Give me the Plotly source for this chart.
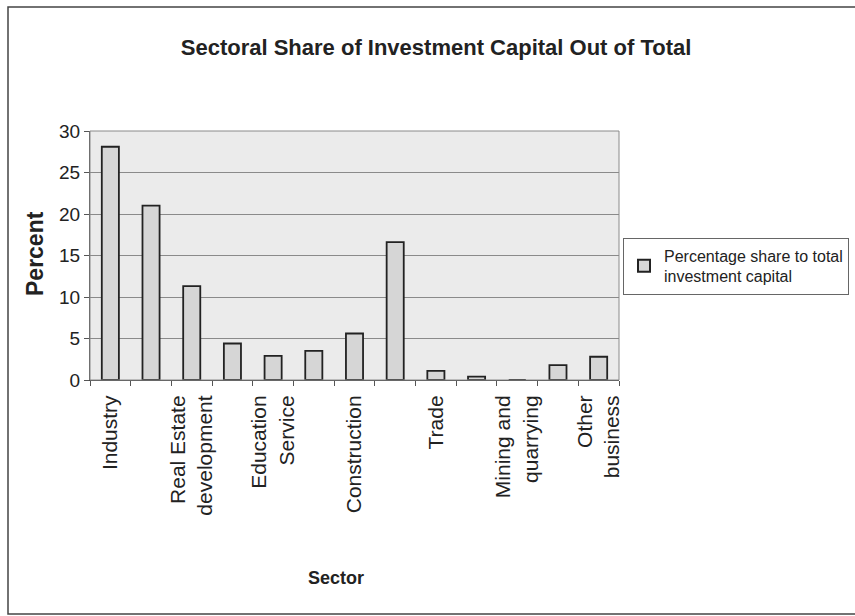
import plotly.graph_objects as go

# Percentage share of each sector (13 sectors, every second one labelled)
shares = [28.1, 21.0, 11.3, 4.4, 2.9, 3.5, 5.6, 16.6, 1.1, 0.4, 0.0, 1.8, 2.8]
label_positions = [0, 2, 4, 6, 8, 10, 12]
tick_labels = [
    "Industry",
    "Real Estate<br>development",
    "Education<br>Service",
    "Construction",
    "Trade",
    "Mining and<br>quarrying",
    "Other<br>business",
]
y_ticks = [0, 5, 10, 15, 20, 25, 30]
series_name = "Percentage share to total<br>investment capital"

narrow = "Liberation Sans Narrow, Arial Narrow, Liberation Sans, sans-serif"
regular = "Liberation Sans, Arial, sans-serif"

# plot-area geometry in pixels, used to place the frame and axis titles
W, H = 855, 616
L, R, T, B = 90, 236, 131, 236
pw, ph = W - L - R, H - T - B

fig = go.Figure()
fig.add_trace(go.Bar(
    x=list(range(len(shares))),
    y=shares,
    width=0.42,
    name=series_name,
    marker=dict(color="#d6d6d6", line=dict(color="#222", width=1.8)),
    showlegend=True,
))

fig.update_layout(
    width=W, height=H,
    margin=dict(l=L, r=R, t=T, b=B, autoexpand=False),
    paper_bgcolor="white",
    plot_bgcolor="#ebebeb",
    title=dict(
        text="<b>Sectoral Share of Investment Capital Out of Total</b>",
        x=0.51, xref="container", xanchor="center",
        y=1 - 47 / H, yref="container", yanchor="middle",
        font=dict(family=narrow, size=22, color="#222"),
    ),
    xaxis=dict(
        range=[-0.5, 12.5],
        tickmode="array", tickvals=label_positions, ticktext=tick_labels,
        tickangle=-90,
        ticks="",
        ticklabelstandoff=6,
        tickfont=dict(family=regular, size=21, color="#222"),
        showgrid=False,
        showline=True, linecolor="#444", linewidth=1,
        minor=dict(tick0=0.5, dtick=1, ticks="outside", ticklen=5,
                   tickcolor="#555", showgrid=False),
        zeroline=False,
    ),
    yaxis=dict(
        range=[0, 30],
        tickmode="array", tickvals=y_ticks,
        ticks="outside", ticklen=5, tickcolor="#555",
        tickfont=dict(family=narrow, size=19, color="#222"),
        showgrid=True, gridcolor="#8a8a8a", gridwidth=1,
        showline=True, linecolor="#555", linewidth=1,
        zeroline=False,
    ),
    legend=dict(
        x=(623 - L) / pw, xanchor="left", y=(380 - 266) / ph, yanchor="middle",
        bgcolor="white", bordercolor="#666", borderwidth=1,
        font=dict(family=narrow, size=16, color="#222"),
        itemsizing="constant",
    ),
    annotations=[
        dict(text="<b>Percent</b>", textangle=-90, showarrow=False,
             xref="paper", yref="paper", x=(35 - L) / pw, y=(380 - 254) / ph,
             xanchor="center", yanchor="middle",
             font=dict(family=regular, size=23, color="#222")),
        dict(text="<b>Sector</b>", showarrow=False,
             xref="paper", yref="paper", x=(336 - L) / pw, y=(380 - 578) / ph,
             xanchor="center", yanchor="middle",
             font=dict(family=narrow, size=18, color="#222")),
    ],
    shapes=[
        # plot-area frame
        dict(type="rect", xref="paper", yref="paper", x0=0, x1=1, y0=0, y1=1,
             line=dict(color="#8a8a8a", width=1)),
        # outer chart border
        dict(type="rect", xref="paper", yref="paper",
             x0=(8 - L) / pw, x1=(W + 10 - L) / pw,
             y0=(380 - 614) / ph, y1=(380 - 7) / ph,
             line=dict(color="#444", width=1.5)),
    ],
)

fig.write_html("out.html")
